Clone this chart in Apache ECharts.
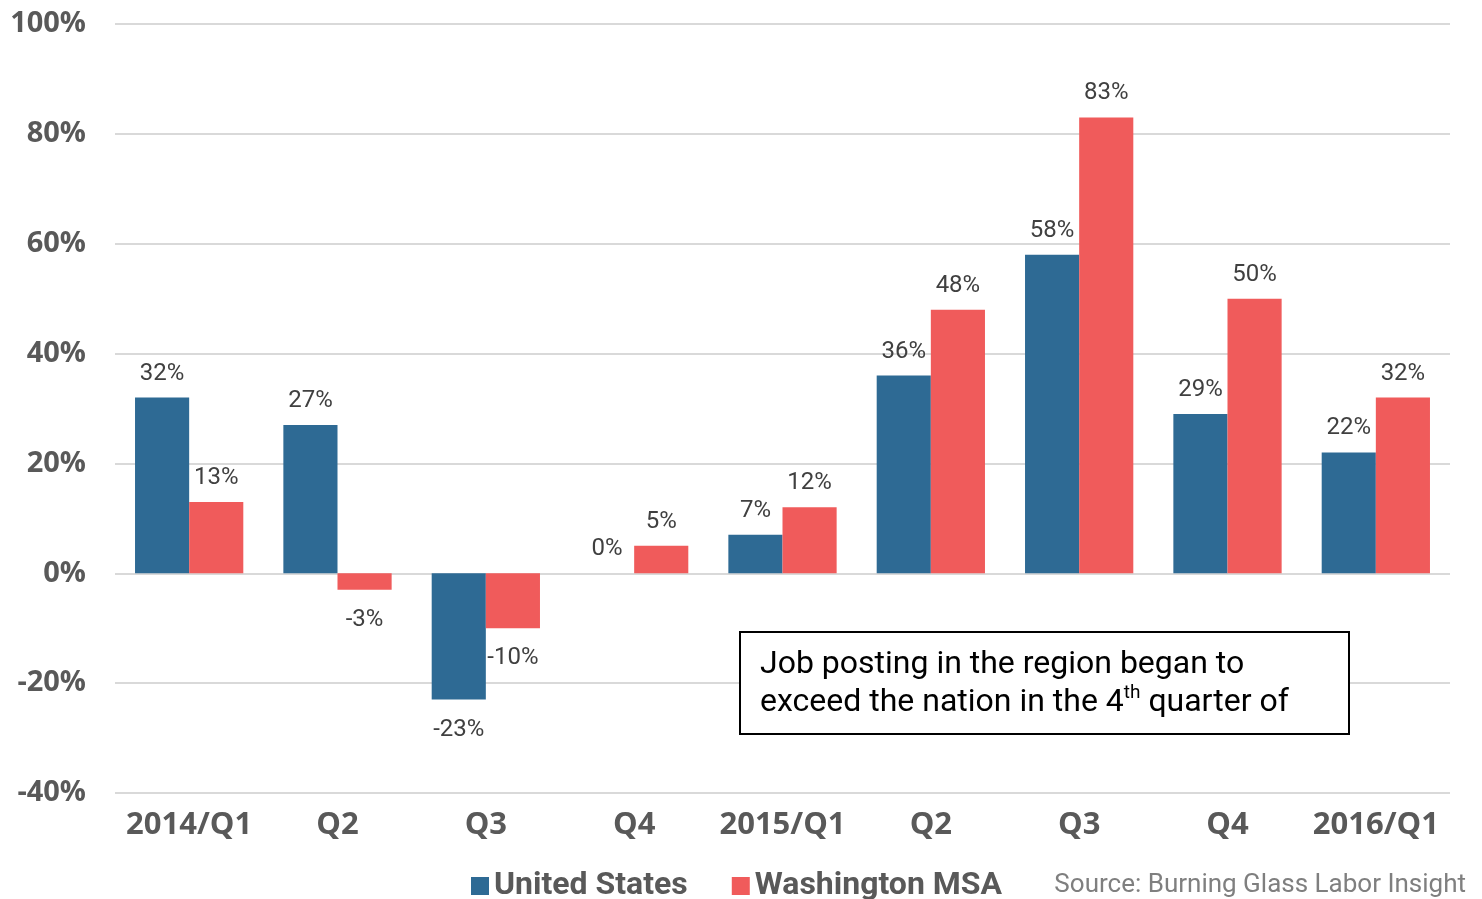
<!DOCTYPE html>
<html>
<head>
<meta charset="utf-8">
<style>
  html, body { margin: 0; padding: 0; background: #fff; }
  #chart { width: 1482px; height: 899px; }
</style>
<script src="https://cdn.jsdelivr.net/npm/echarts@6/dist/echarts.min.js"></script>
</head>
<body>
<div id="chart"></div>
<script>
// quarters along the x axis
const quarters = ['2014/Q1', 'Q2', 'Q3', 'Q4', '2015/Q1', 'Q2', 'Q3', 'Q4', '2016/Q1'];
// year-over-year change in job postings, percent
const usValues = [32, 27, -23, 0, 7, 36, 58, 29, 22];
const waValues = [13, -3, -10, 5, 12, 48, 83, 50, 32];
const seriesNames = ['United States', 'Washington MSA'];

const labelFont = 'Roboto';
const axisFont = 'Open Sans';

// labels go above positive bars and under negative ones
const withLabels = vals => vals.map(v => ({
  value: v,
  label: { position: v < 0 ? 'bottom' : 'top', distance: v < 0 ? 18 : 12 }
}));

const chart = echarts.init(document.getElementById('chart'));

const barLabel = {
  show: true,
  formatter: '{c}%',
  fontFamily: labelFont,
  fontSize: 24,
  color: '#404040'
};

const option = {
  backgroundColor: '#fff',
  animation: false,
  grid: { left: 115, right: 32, top: 24, bottom: 106 },
  legend: {
    left: 466,
    top: 865,
    itemWidth: 18,
    itemHeight: 18,
    itemGap: 44,
    icon: 'rect',
    textStyle: { fontFamily: labelFont, fontWeight: 'bold', fontSize: 32, color: '#595959' },
    data: seriesNames
  },
  xAxis: {
    type: 'category',
    data: quarters,
    axisLine: { show: false },
    axisTick: { show: false },
    axisLabel: {
      interval: 0,
      margin: 17,
      fontFamily: axisFont,
      fontWeight: 'bold',
      fontSize: 31,
      color: '#595959'
    }
  },
  yAxis: {
    type: 'value',
    min: -40,
    max: 100,
    interval: 20,
    axisLine: { show: false },
    axisTick: { show: false },
    splitLine: { lineStyle: { color: '#d9d9d9', width: 2 } },
    axisLabel: {
      margin: 29,
      formatter: '{value}%',
      fontFamily: axisFont,
      fontWeight: 'bold',
      fontSize: 29,
      color: '#595959'
    }
  },
  series: [
    {
      name: seriesNames[0],
      type: 'bar',
      data: withLabels(usValues),
      barGap: '0%',
      barCategoryGap: '27%',
      itemStyle: { color: '#2e6a94' },
      label: barLabel
    },
    {
      name: seriesNames[1],
      type: 'bar',
      data: withLabels(waValues),
      barGap: '0%',
      barCategoryGap: '27%',
      itemStyle: { color: '#f05b5b' },
      label: barLabel
    }
  ],
  graphic: [
    {
      type: 'rect',
      left: 739,
      top: 631,
      shape: { width: 609, height: 102 },
      style: { fill: '#fff', stroke: '#000', lineWidth: 2 },
      z: 100
    },
    {
      type: 'text',
      left: 760,
      top: 649,
      z: 101,
      style: {
        text: '{a|Job posting in the region began to}\n{a|exceed the nation in the 4}{s|th}{a| quarter of}',
        rich: {
          a: { fontFamily: labelFont, fontSize: 32, lineHeight: 38, fill: '#000' },
          s: { fontFamily: labelFont, fontSize: 19, lineHeight: 38, fill: '#000', verticalAlign: 'top', padding: [0, 0, 14, 0] }
        }
      }
    },
    {
      type: 'text',
      right: 16,
      top: 872,
      style: {
        text: 'Source: Burning Glass Labor Insight',
        fontFamily: labelFont,
        fontSize: 26,
        fill: '#7f7f7f'
      }
    }
  ]
};

chart.setOption(option);
window.addEventListener('resize', () => chart.resize());
</script>
</body>
</html>
